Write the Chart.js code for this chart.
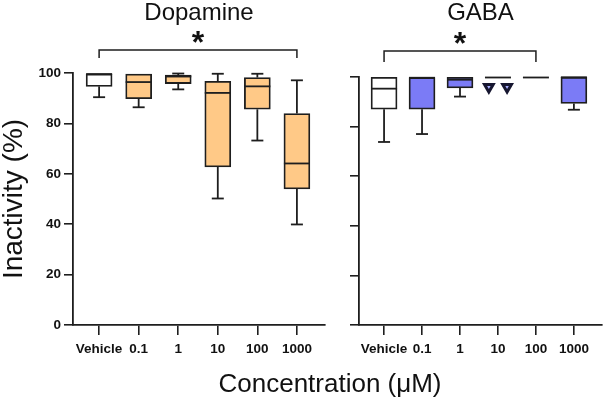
<!DOCTYPE html>
<html>
<head>
<meta charset="utf-8">
<script src="https://cdn.jsdelivr.net/npm/chart.js@4/dist/chart.umd.min.js"></script>
<style>
  html, body { margin: 0; padding: 0; background: #fff; }
  #wrap { position: relative; width: 610px; height: 403px; overflow: hidden; }
  canvas { position: absolute; top: 0; }
  #xTitle {
    position: absolute; left: 130px; width: 400px; top: 368px;
    text-align: center; font: 26px 'Liberation Sans', Arial, sans-serif;
    line-height: 30px; color: #111;
  }
</style>
</head>
<body>
<div id="wrap">
  <canvas id="dopa" width="330" height="403" style="left:0"></canvas>
  <canvas id="gaba" width="280" height="403" style="left:330px"></canvas>
  <div id="xTitle">Concentration (μM)</div>
</div>
<script>
const categories = ['Vehicle', '0.1', '1', '10', '100', '1000'];
const yTicks = [0, 20, 40, 60, 80, 100];

// Dopamine box stats (Inactivity %)
const dopaMin    = [90.4, 86.4, 93.5, 50.2, 73.2, 39.9];
const dopaQ1     = [94.7, 89.8, 95.8, 62.7, 85.6, 54.0];
const dopaMedian = [99.6, 96.4, 98.6, 92.1, 94.7, 64.1];
const dopaQ3     = [99.6, 99.6, 99.2, 96.7, 98.2, 83.9];
const dopaMax    = [99.6, 99.6, 99.8, 99.7, 99.7, 97.1];

// GABA box stats (Inactivity %)
const gabaMin    = [73.8, 77.0, 92.1, 99.8, 99.8, 86.8];
const gabaQ1     = [87.0, 87.0, 95.6, 99.8, 99.8, 89.3];
const gabaMedian = [95.3, 99.7, 98.9, 99.8, 99.8, 99.9];
const gabaQ3     = [99.9, 99.8, 99.9, 99.8, 99.8, 99.9];
const gabaMax    = [99.9, 99.8, 99.9, 99.8, 99.8, 99.9];
// outliers: [category index, value]
const gabaOutliers = [[3, 96.0], [3, 96.0]];

const FONT = "'Liberation Sans', Arial, sans-serif";
const INK = '#1e1e1e';
const ORANGE = '#ffc987';
const BLUE = '#7b7bf6';
const LW = 1.8;

// whiskers, caps and median lines, drawn through the chart scales
const boxPlugin = {
  id: 'boxes',
  afterDatasetsDraw(chart, args, opts) {
    const { ctx, scales: { x, y } } = chart;
    ctx.save();
    ctx.strokeStyle = INK;
    ctx.lineWidth = LW;
    opts.min.forEach((mn, i) => {
      const cx = x.getPixelForValue(i);
      const half = opts.boxW / 2, cap = opts.capW / 2;
      const line = (x1, y1, x2, y2) => { ctx.beginPath(); ctx.moveTo(x1, y1); ctx.lineTo(x2, y2); ctx.stroke(); };
      const pMin = y.getPixelForValue(mn), pQ1 = y.getPixelForValue(opts.q1[i]);
      const pQ3 = y.getPixelForValue(opts.q3[i]), pMax = y.getPixelForValue(opts.max[i]);
      if (pMin - pQ1 > 0.5) { line(cx, pQ1, cx, pMin); line(cx - cap, pMin, cx + cap, pMin); }
      if (pQ3 - pMax > 0.5) { line(cx, pQ3, cx, pMax); line(cx - cap, pMax, cx + cap, pMax); }
      const pMed = y.getPixelForValue(opts.median[i]);
      line(cx - half, pMed, cx + half, pMed);
    });
    ctx.restore();
  }
};

// significance bracket with asterisk
const bracketPlugin = {
  id: 'bracket',
  afterDraw(chart, args, opts) {
    const { ctx, scales: { x } } = chart;
    const x1 = x.getPixelForValue(opts.from), x2 = x.getPixelForValue(opts.to);
    ctx.save();
    ctx.strokeStyle = INK;
    ctx.lineWidth = 1.5;
    ctx.beginPath();
    ctx.moveTo(x1, opts.y + opts.drop);
    ctx.lineTo(x1, opts.y);
    ctx.lineTo(x2, opts.y);
    ctx.lineTo(x2, opts.y + opts.drop);
    ctx.stroke();
    ctx.fillStyle = '#111';
    ctx.font = 'bold 32px ' + FONT;
    ctx.textAlign = 'center';
    ctx.textBaseline = 'alphabetic';
    ctx.fillText('*', (x1 + x2) / 2, opts.y + 3);
    ctx.restore();
  }
};

function makeChart(id, cfg) {
  const datasets = [{
    type: 'bar',
    data: categories.map((c, i) => ({ x: i, y: [cfg.q1[i], cfg.q3[i]] })),
    backgroundColor: categories.map((c, i) => i === 0 ? '#ffffff' : cfg.fill),
    borderColor: INK,
    borderWidth: LW,
    borderSkipped: false,
    barThickness: 26
  }];
  if (cfg.outliers) {
    datasets.push({
      type: 'scatter',
      data: cfg.outliers.map((o, k) => ({ x: o[0] + (k === 0 ? -0.24 : 0.24), y: o[1] })),
      pointStyle: 'triangle',
      rotation: 180,
      radius: 5,
      backgroundColor: '#aab0ff',
      borderColor: '#161630',
      borderWidth: 3
    });
  }
  return new Chart(document.getElementById(id), {
    type: 'bar',
    data: { datasets },
    plugins: [boxPlugin, bracketPlugin],
    options: {
      responsive: false,
      animation: false,
      layout: { padding: { top: 1, left: 0, right: cfg.padRight, bottom: 38 } },
      scales: {
        x: {
          type: 'linear',
          min: cfg.xMin,
          max: cfg.xMax,
          offset: false,
          afterBuildTicks: s => { s.ticks = categories.map((c, i) => ({ value: i })); },
          afterFit: s => { s.height = 40; },
          ticks: {
            callback: v => categories[v],
            autoSkip: false, maxRotation: 0,
            padding: 6,
            color: '#111',
            font: { family: FONT, size: 13.5, weight: 'bold' }
          },
          grid: { offset: false, drawOnChartArea: false, tickLength: 10, color: INK, lineWidth: 1.6 },
          border: { display: true, color: INK, width: LW }
        },
        y: {
          min: 0,
          max: 100,
          afterBuildTicks: s => { s.ticks = yTicks.map(v => ({ value: v })); },
          afterFit: s => { s.width = cfg.yWidth; },
          ticks: {
            display: cfg.showY,
            padding: 3,
            color: '#111',
            font: { family: FONT, size: 13.5, weight: 'bold' }
          },
          grid: { drawOnChartArea: false, tickLength: 9, color: INK, lineWidth: 1.6 },
          border: { display: true, color: INK, width: LW },
          title: {
            display: cfg.showY,
            text: 'Inactivity (%)',
            color: '#111',
            padding: 0,
            font: { family: FONT, size: 28, lineHeight: 1 }
          }
        }
      },
      plugins: {
        legend: { display: false },
        tooltip: { enabled: false },
        title: {
          display: true,
          text: cfg.title,
          fullSize: false,
          color: '#111',
          padding: { top: 0, bottom: cfg.titleGap },
          font: { family: FONT, size: 24, weight: 'normal', lineHeight: 1 }
        },
        boxes: { min: cfg.min, q1: cfg.q1, median: cfg.median, q3: cfg.q3, max: cfg.max, boxW: 26, capW: 12 },
        bracket: cfg.bracket
      }
    }
  });
}

makeChart('dopa', {
  title: 'Dopamine', fill: ORANGE,
  min: dopaMin, q1: dopaQ1, median: dopaMedian, q3: dopaQ3, max: dopaMax,
  xMin: -0.66, xMax: 5.71, yWidth: 73, showY: true, padRight: 5, titleGap: 48,
  bracket: { from: 0, to: 5, y: 50, drop: 8 }
});

makeChart('gaba', {
  title: 'GABA', fill: BLUE,
  min: gabaMin, q1: gabaQ1, median: gabaMedian, q3: gabaQ3, max: gabaMax,
  outliers: gabaOutliers,
  xMin: -0.66, xMax: 5.74, yWidth: 29, showY: false, padRight: 0, titleGap: 52,
  bracket: { from: 0, to: 4, y: 51, drop: 11 }
});
</script>
</body>
</html>
